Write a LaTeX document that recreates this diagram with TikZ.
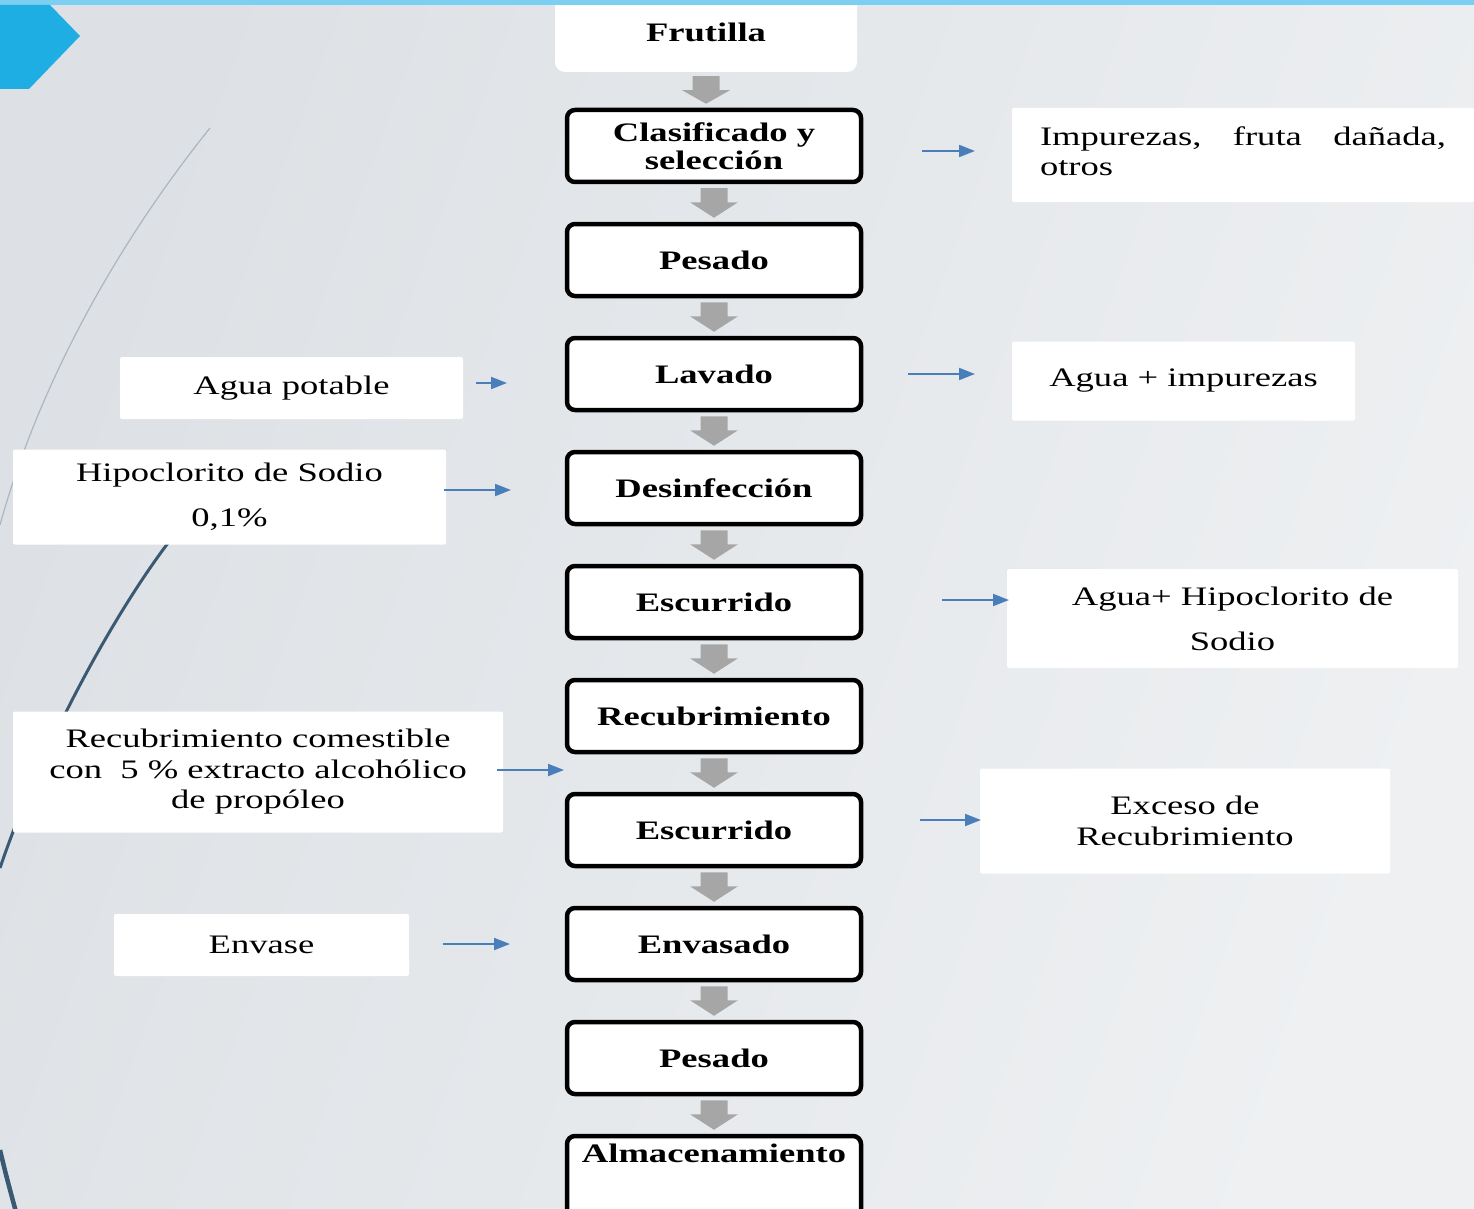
\documentclass[tikz,border=0pt]{standalone}
\usepackage{fontspec}
\usetikzlibrary{arrows.meta,calc,shadings}
\newfontfamily\wideserif[FakeStretch=1.37]{Liberation Serif}

\definecolor{bgleft}{HTML}{DDE1E5}
\definecolor{bgright}{HTML}{EEF0F2}
\definecolor{topbar}{HTML}{7CCFF0}
\definecolor{chevron}{HTML}{1EAEE3}
\definecolor{arcgray}{HTML}{ADB5BD}
\definecolor{arcdark}{HTML}{3A5A73}
\definecolor{blockgray}{HTML}{A6A6A6}
\definecolor{arrowblue}{HTML}{4A7EBB}

\tikzset{
  stepbox/.style={draw=black, fill=white, line width=4.5pt, rounded corners=8pt,
    minimum width=294pt, minimum height=72pt, inner sep=0pt, align=center,
    font=\wideserif\bfseries\fontsize{26.7}{28}\selectfont},
  sidebox/.style={fill=white, rounded corners=2pt, inner sep=0pt, align=center,
    font=\wideserif\fontsize{26.7}{30.5}\selectfont},
  flow/.style={draw=arrowblue, line width=2pt, -{Triangle[length=16pt,width=12pt]}},
  gaparrow/.style={fill=blockgray},
}

% grey block arrow between two process boxes
\newcommand\gaparrow[2]{%
  \fill[gaparrow] ($(#1.south)+(-13.5,4)$) -- ($(#1.south)+(13.5,4)$)
    -- ($(#1.south)+(13.5,18)$) -- ($(#1.south)+(24,18)$)
    -- ($(#1.south |- #2.north)+(0,-4)$)
    -- ($(#1.south)+(-24,18)$) -- ($(#1.south)+(-13.5,18)$) -- cycle;}

\begin{document}
\begin{tikzpicture}[x=1pt,y=-1pt]
\useasboundingbox (0,0) rectangle (1474,1209);
\clip (0,0) rectangle (1474,1209);

% background
\shade[left color=bgleft, right color=bgright, shading angle=70] (0,0) rectangle (1474,1209);

% decorative arcs
\draw[arcgray, line width=1.2pt] (210,128) .. controls (120,240) and (40,380) .. (0,525);
\draw[arcdark, line width=3pt] (168,543) .. controls (110,620) and (40,750) .. (0,868);
\draw[arcdark, line width=4.5pt] (0,1150) .. controls (6,1175) .. (16,1212);

% raw material
\node[fill=white, rounded corners=10pt, minimum width=302pt, minimum height=80pt,
      inner sep=0pt, font=\wideserif\bfseries\fontsize{26.7}{28}\selectfont]
      (fru) at (706,32) {Frutilla};

% process steps
\node[stepbox] (clas) at (714,146) {Clasificado y\\selección};
\node[stepbox] (pes1) at (714,260) {Pesado};
\node[stepbox] (lav)  at (714,374) {Lavado};
\node[stepbox] (des)  at (714,488) {Desinfección};
\node[stepbox] (esc1) at (714,602) {Escurrido};
\node[stepbox] (rec)  at (714,716) {Recubrimiento};
\node[stepbox] (esc2) at (714,830) {Escurrido};
\node[stepbox] (env)  at (714,944) {Envasado};
\node[stepbox] (pes2) at (714,1058) {Pesado};
\node[stepbox, minimum height=88pt] (alm) at (714,1180) {Almacenamiento\\[25pt]~};

\foreach \a/\b in {fru/clas, clas/pes1, pes1/lav, lav/des, des/esc1,
                   esc1/rec, rec/esc2, esc2/env, env/pes2, pes2/alm}
  \gaparrow{\a}{\b};

% inputs and outputs
\node[sidebox, minimum width=462pt, minimum height=94pt, text width=406pt, align=left]
  (imp) at (1243,155) {\makebox[406pt]{Impurezas,\hfill fruta\hfill dañada,}\\otros\\[-22.5pt]~};
\node[sidebox, minimum width=343pt, minimum height=62pt] (aguapot) at (291.5,388) {Agua potable};
\node[sidebox, minimum width=343pt, minimum height=79pt] (aguaimp) at (1183.5,381) {Agua + impurezas};
\node[sidebox, minimum width=433pt, minimum height=95pt,
      font=\wideserif\fontsize{26.7}{45}\selectfont]
  (hipo) at (229.5,497) {Hipoclorito de Sodio\\0,1\%};
\node[sidebox, minimum width=451pt, minimum height=99pt,
      font=\wideserif\fontsize{26.7}{45}\selectfont]
  (aguahipo) at (1232.5,618.5) {Agua+ Hipoclorito de\\Sodio};
\node[sidebox, minimum width=490pt, minimum height=121pt]
  (recub) at (258,772) {Recubrimiento comestible\\con\ \ 5 \% extracto alcohólico\\de propóleo};
\node[sidebox, minimum width=410pt, minimum height=105pt]
  (exceso) at (1185,821) {Exceso de\\Recubrimiento};
\node[sidebox, minimum width=295pt, minimum height=62pt] (envase) at (261.5,945) {Envase};

% flow arrows
\coordinate (o1a) at (922,151);  \coordinate (o1b) at (975,151);
\coordinate (i1a) at (476,383);  \coordinate (i1b) at (507,383);
\coordinate (o2a) at (908,374);  \coordinate (o2b) at (975,374);
\coordinate (i2a) at (444,490);  \coordinate (i2b) at (511,490);
\coordinate (o3a) at (942,600);  \coordinate (o3b) at (1009,600);
\coordinate (i3a) at (497,770);  \coordinate (i3b) at (564,770);
\coordinate (o4a) at (920,820);  \coordinate (o4b) at (981,820);
\coordinate (i4a) at (443,944);  \coordinate (i4b) at (510,944);
\foreach \p in {o1,i1,o2,i2,o3,i3,o4,i4}
  \draw[flow] (\p a) -- (\p b);

% header band and corner tab
\fill[topbar] (0,0) rectangle (1474,5);
\fill[chevron] (0,5) -- (50,5) -- (80,36) -- (29,89) -- (0,89) -- cycle;
\end{tikzpicture}
\end{document}
